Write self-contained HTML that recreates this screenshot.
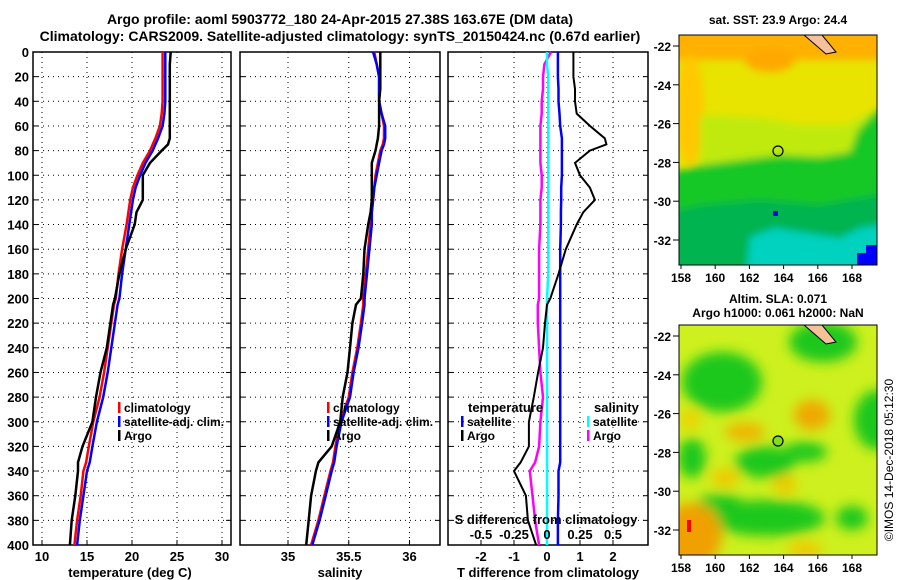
<!DOCTYPE html>
<html><head><meta charset="utf-8"><style>
html,body{margin:0;padding:0;background:#fff;}
svg{display:block;font-family:"Liberation Sans",sans-serif;font-weight:bold;}
</style></head><body>
<svg id="chart" width="900" height="580" viewBox="0 0 900 580">
<defs>
<filter id="blur" x="-50%" y="-50%" width="200%" height="200%"><feGaussianBlur stdDeviation="6"/></filter>
<filter id="blur2" x="-20%" y="-20%" width="140%" height="140%"><feGaussianBlur stdDeviation="4"/></filter>
<clipPath id="clipTop"><rect x="679" y="35" width="198" height="230"/></clipPath>
<clipPath id="clipBot"><rect x="679" y="325" width="198" height="230"/></clipPath>
</defs>
<text x="340" y="24" font-size="14" text-anchor="middle">Argo profile: aoml 5903772_180 24-Apr-2015 27.38S 163.67E (DM data)</text>
<text x="340" y="41" font-size="14" text-anchor="middle">Climatology: CARS2009. Satellite-adjusted climatology: synTS_20150424.nc (0.67d earlier)</text>
<g id="p1"></g>
<g id="p2"></g>
<g id="p3"></g>

<g>
<text x="778" y="24" font-size="12" text-anchor="middle">sat. SST: 23.9 Argo: 24.4</text>
<g clip-path="url(#clipTop)">
<rect x="679" y="35" width="198" height="230" fill="#e8e400"/>
<g filter="url(#blur2)">
<rect x="660" y="20" width="240" height="40" fill="#ffb000"/>
<ellipse cx="770" cy="60" rx="25" ry="12" fill="#ffa800"/>
<ellipse cx="690" cy="110" rx="14" ry="55" fill="#ffc800"/>
<path d="M700 115 L760 118 L800 125 L845 125 L877 110 L877 160 L700 165Z" fill="#c0ea10"/>
<path d="M660 175 L700 165 L740 160 L780 155 L820 157 L850 152 L858 130 L877 110 L900 110 L900 290 L660 290Z" fill="#14c828"/>
<path d="M660 215 L700 205 L760 200 L820 205 L877 195 L900 195 L900 290 L660 290Z" fill="#00b450"/>
<path d="M745 290 L750 237 L775 228 L800 232 L840 238 L860 228 L900 222 L900 290Z" fill="#00d2c0"/>
</g>
<path d="M857 265 L857 253 L866 253 L866 245 L877 245 L877 265Z" fill="#0000ff"/>
<rect x="773" y="211" width="5" height="5" fill="#0000ff"/>
<path d="M804 35 L822 35 L836 52 L826 54 Z" fill="#f5c09a" stroke="#000" stroke-width="1"/>
<circle cx="778" cy="151" r="5" fill="none" stroke="#000" stroke-width="1.2"/>
</g>
<rect x="679" y="35" width="198" height="230" fill="none" stroke="#000" stroke-width="1"/>
</g>

<g>
<text x="778" y="303" font-size="12" text-anchor="middle">Altim. SLA: 0.071</text>
<text x="778" y="317" font-size="12" text-anchor="middle">Argo h1000: 0.061 h2000: NaN</text>
<g clip-path="url(#clipBot)">
<rect x="679" y="325" width="198" height="230" fill="#cdf01e"/>
<g filter="url(#blur)">
<ellipse cx="722" cy="382" rx="40" ry="30" fill="#1ec81e"/>
<ellipse cx="823" cy="342" rx="34" ry="20" fill="#1ec81e"/>
<ellipse cx="878" cy="420" rx="24" ry="30" fill="#1ec81e"/>
<ellipse cx="765" cy="462" rx="30" ry="16" fill="#1ec81e"/>
<ellipse cx="805" cy="452" rx="22" ry="10" fill="#1ec81e"/>
<ellipse cx="692" cy="458" rx="14" ry="20" fill="#1ec81e"/>
<ellipse cx="767" cy="518" rx="58" ry="18" fill="#1ec81e"/>
<ellipse cx="720" cy="502" rx="22" ry="8" fill="#1ec81e"/>
<ellipse cx="852" cy="518" rx="16" ry="12" fill="#1ec81e"/>
<ellipse cx="692" cy="535" rx="30" ry="32" fill="#f0a000"/>
<ellipse cx="812" cy="415" rx="18" ry="15" fill="#f0a800"/>
<ellipse cx="745" cy="432" rx="20" ry="9" fill="#f0b400"/>
<ellipse cx="785" cy="485" rx="12" ry="9" fill="#f0c800"/>
<ellipse cx="725" cy="478" rx="14" ry="9" fill="#f0c800"/>
<ellipse cx="690" cy="420" rx="10" ry="10" fill="#f0d000"/>
<ellipse cx="805" cy="550" rx="18" ry="8" fill="#f0c800"/>
</g>
<rect x="687" y="520" width="4" height="12" fill="#ff0000"/>
<path d="M804 325 L822 325 L836 342 L826 344 Z" fill="#f5c09a" stroke="#000" stroke-width="1"/>
<circle cx="778" cy="441" r="5" fill="#7ce01e" stroke="#000" stroke-width="1.2"/>
</g>
<rect x="679" y="325" width="198" height="230" fill="none" stroke="#000" stroke-width="1"/>
</g>
<g id="mapaxes"></g>
<text transform="translate(893,460) rotate(-90)" font-size="12" font-weight="normal" text-anchor="middle">©IMOS 14-Dec-2018 05:12:30</text>
</svg>
<script>
const NS="http://www.w3.org/2000/svg";
const depths=[0,10,20,30,40,50,60,70,75,80,90,100,110,120,130,140,160,180,200,205,220,240,260,280,300,320,333,340,360,380,400];
const tempClim=[23.4,23.4,23.4,23.4,23.4,23.3,23.1,22.6,22.3,22.0,21.2,20.6,20.1,19.8,19.6,19.4,18.9,18.5,18.2,18.0,17.7,17.3,16.9,16.4,15.7,15.2,14.9,14.6,14.3,13.9,13.6];
const tempSat=[23.7,23.7,23.7,23.7,23.7,23.6,23.4,22.9,22.6,22.3,21.5,20.9,20.4,20.1,19.9,19.7,19.3,18.9,18.6,18.4,18.1,17.7,17.3,16.8,16.1,15.6,15.3,15.0,14.6,14.2,13.9];
const tempArgo=[24.3,24.2,24.2,24.2,24.2,24.2,24.2,24.2,24.0,23.3,22.0,21.2,21.2,21.2,20.5,20.3,19.3,18.6,18.1,17.9,17.6,17.2,16.5,16.0,15.6,14.5,14.0,14.0,13.7,13.3,13.1];
const salClim=[35.71,35.73,35.75,35.75,35.75,35.77,35.79,35.79,35.78,35.76,35.74,35.72,35.71,35.70,35.69,35.68,35.66,35.64,35.62,35.62,35.60,35.57,35.53,35.50,35.43,35.39,35.37,35.35,35.30,35.25,35.19];
const salSat=[35.70,35.73,35.75,35.75,35.75,35.77,35.80,35.80,35.79,35.77,35.75,35.73,35.71,35.70,35.69,35.69,35.67,35.65,35.63,35.63,35.61,35.58,35.54,35.51,35.44,35.40,35.38,35.36,35.31,35.26,35.20];
const salArgo=[35.76,35.76,35.76,35.76,35.75,35.75,35.75,35.74,35.73,35.72,35.69,35.69,35.69,35.69,35.68,35.66,35.63,35.62,35.60,35.56,35.53,35.51,35.49,35.45,35.43,35.36,35.25,35.23,35.19,35.17,35.15];
const tdiffArgo=[0.8,0.8,0.8,0.85,0.85,0.9,1.3,1.75,1.8,1.3,0.85,1.0,1.3,1.45,1.1,0.9,0.57,0.35,0.1,0.0,-0.06,-0.12,-0.27,-0.4,-0.55,-0.55,-0.8,-1.0,-0.64,-0.58,-0.33];
const tdiffSat=[0.33,0.33,0.33,0.35,0.35,0.38,0.4,0.45,0.45,0.45,0.45,0.45,0.43,0.43,0.42,0.42,0.4,0.4,0.4,0.4,0.4,0.4,0.4,0.4,0.4,0.4,0.4,0.35,0.35,0.33,0.33];
const sdiffArgo=[0.03,-0.02,-0.03,-0.03,-0.04,-0.04,-0.05,-0.05,-0.05,-0.05,-0.05,-0.04,-0.04,-0.05,-0.05,-0.05,-0.06,-0.06,-0.06,-0.07,-0.07,-0.06,-0.05,-0.03,-0.05,-0.06,-0.09,-0.13,-0.11,-0.09,-0.06];
const sdiffSat=[0.0,0.0,0.01,0.01,0.01,0.01,0.01,0.01,0.01,0.01,0.01,0.01,0.01,0.01,0.01,0.01,0.01,0.01,0.0,0.0,0.0,0.0,0.0,0.0,0.0,0.0,0.0,0.0,0.0,0.0,0.0];
const depthTicks=[0,20,40,60,80,100,120,140,160,180,200,220,240,260,280,300,320,340,360,380,400];
const tempTicks=[10,15,20,25,30];
const salTicks=[35,35.5,36];
const salTickLabels=["35","35.5","36"];
const tdiffTicks=[-2,-1,0,1,2];
const sdiffTicks=[-0.5,-0.25,0,0.25,0.5];
const sdiffTickLabels=["-0.5","-0.25","0","0.25","0.5"];
const latTicks=[-22,-24,-26,-28,-30,-32];
const lonTicks=[158,160,162,164,166,168];

const Y=d=>52+d*1.2325;
const xT=t=>42+(t-10)*9;
const xS=s=>288+(s-35)*121.5;
const xTD=t=>547+t*33;
const xSD=s=>547+s*132;

function el(tag,attrs,parent,txt){const e=document.createElementNS(NS,tag);for(const k in attrs)e.setAttribute(k,attrs[k]);if(txt!==undefined)e.textContent=txt;parent.appendChild(e);return e;}

function frame(g,x0,x1,gridXs,showY){
  depthTicks.forEach(d=>{
    if(d>0&&d<400){const l=el('line',{x1:x0,x2:x1,y1:Y(d),y2:Y(d),stroke:'#000','stroke-width':1,'stroke-dasharray':'1,4'},g);
    
    }
    const t1=el('line',{x1:x0,x2:x0+5,y1:Y(d),y2:Y(d),stroke:'#000'},g);
    
    
    const t2=el('line',{x1:x1-5,x2:x1,y1:Y(d),y2:Y(d),stroke:'#000'},g);
    
    
    if(showY){const tx=el('text',{x:x0-4,y:Y(d)+5,'font-size':13,'text-anchor':'end'},g,String(d));
    
    }
  });
  gridXs.forEach(x=>{
    const l=el('line',{x1:x,x2:x,y1:52,y2:545,stroke:'#000','stroke-width':1,'stroke-dasharray':'1,4'},g);
    
    
    const t=el('line',{x1:x,x2:x,y1:540,y2:545,stroke:'#000'},g);
    
    
  });
  const r=el('rect',{x:x0,y:52,width:x1-x0,height:493,fill:'none',stroke:'#000','stroke-width':1.5},g);
  
  
}
function line(g,xs,xf,color,w,name){
  const pts=depths.map((d,i)=>xf(xs[i]).toFixed(1)+','+Y(d).toFixed(1)).join(' ');
  const p=el('polyline',{points:pts,fill:'none',stroke:color,'stroke-width':w},g);
  
  
}
function leg(g,x,y,color,label,name){
  const r=el('rect',{x:x,y:y-10,width:2.5,height:11,fill:color},g);
  
  
  const t=el('text',{x:x+6,y:y,'font-size':12},g,label);
  
  
}
function xlab(g,x,y,s,name,anchor){const t=el('text',{x:x,y:y,'font-size':13,'text-anchor':anchor||'middle'},g,s);
  
  }

const p1=document.getElementById('p1');
frame(p1,33,231,tempTicks.map(xT),true);
line(p1,tempClim,xT,'#ff0000',2.5,'climatology-temperature-line');
line(p1,tempSat,xT,'#0000ff',2.5,'satellite-temperature-line');
line(p1,tempArgo,xT,'#000',2.5,'argo-temperature-line');
tempTicks.forEach(t=>xlab(p1,xT(t),561,String(t),'temperature-tick-label'));
xlab(p1,130,577,'temperature (deg C)','temperature-axis-title');
leg(p1,118,412,'#ff0000','climatology','legend-climatology');
leg(p1,118,426,'#0000ff','satellite-adj. clim.','legend-satellite');
leg(p1,118,440,'#000','Argo','legend-argo');

const p2=document.getElementById('p2');
frame(p2,240,440,salTicks.map(xS),false);
line(p2,salClim,xS,'#ff0000',2.5,'climatology-salinity-line');
line(p2,salSat,xS,'#0000ff',2.5,'satellite-salinity-line');
line(p2,salArgo,xS,'#000',2.5,'argo-salinity-line');
salTicks.forEach((s,i)=>xlab(p2,xS(s),561,salTickLabels[i],'salinity-tick-label'));
xlab(p2,340,577,'salinity','salinity-axis-title');
leg(p2,327,412,'#ff0000','climatology','legend-climatology');
leg(p2,327,426,'#0000ff','satellite-adj. clim.','legend-satellite');
leg(p2,327,440,'#000','Argo','legend-argo');

const p3=document.getElementById('p3');
frame(p3,448,648,tdiffTicks.map(xTD),false);
line(p3,sdiffArgo,xSD,'#ff00ff',2.5,'argo-salinity-difference-line');
line(p3,sdiffSat,xSD,'#00ffff',2.5,'satellite-salinity-difference-line');
line(p3,tdiffSat,xTD,'#0000ff',2.5,'satellite-temperature-difference-line');
line(p3,tdiffArgo,xTD,'#000',2,'argo-temperature-difference-line');
tdiffTicks.forEach(t=>xlab(p3,xTD(t),561,String(t),'t-difference-tick-label'));
xlab(p3,548,577,'T difference from climatology','t-difference-axis-title');
xlab(p3,546,524,'S difference from climatology','s-difference-axis-title');
sdiffTicks.forEach((s,i)=>xlab(p3,xSD(s),539,sdiffTickLabels[i],'s-difference-tick-label'));
xlab(p3,468,412,'temperature','legend-temperature-heading','start');
leg(p3,461,426,'#0000ff','satellite','legend-temperature-satellite');
leg(p3,461,440,'#000','Argo','legend-temperature-argo');
xlab(p3,594,412,'salinity','legend-salinity-heading','start');
leg(p3,587,426,'#00ffff','satellite','legend-salinity-satellite');
leg(p3,587,440,'#ff00ff','Argo','legend-salinity-argo');

const ma=document.getElementById('mapaxes');
[[35,46],[325,336]].forEach(([top,lat22])=>{
  const bottom=top+230;
  latTicks.forEach(l=>{
    const y=lat22+(-22-l)*19.4;
    const t=el('line',{x1:673,x2:679,y1:y,y2:y,stroke:'#000'},ma);
    
    
    const s=el('text',{x:671,y:y+5,'font-size':12,'text-anchor':'end'},ma,String(l));
    
    
  });
  lonTicks.forEach(l=>{
    const x=681+(l-158)*17.1;
    const t=el('line',{x1:x,x2:x,y1:bottom,y2:bottom+4,stroke:'#000'},ma);
    
    
    const s=el('text',{x:x,y:bottom+17,'font-size':12,'text-anchor':'middle'},ma,String(l));
    
    
  });
});
</script>
</body></html>
